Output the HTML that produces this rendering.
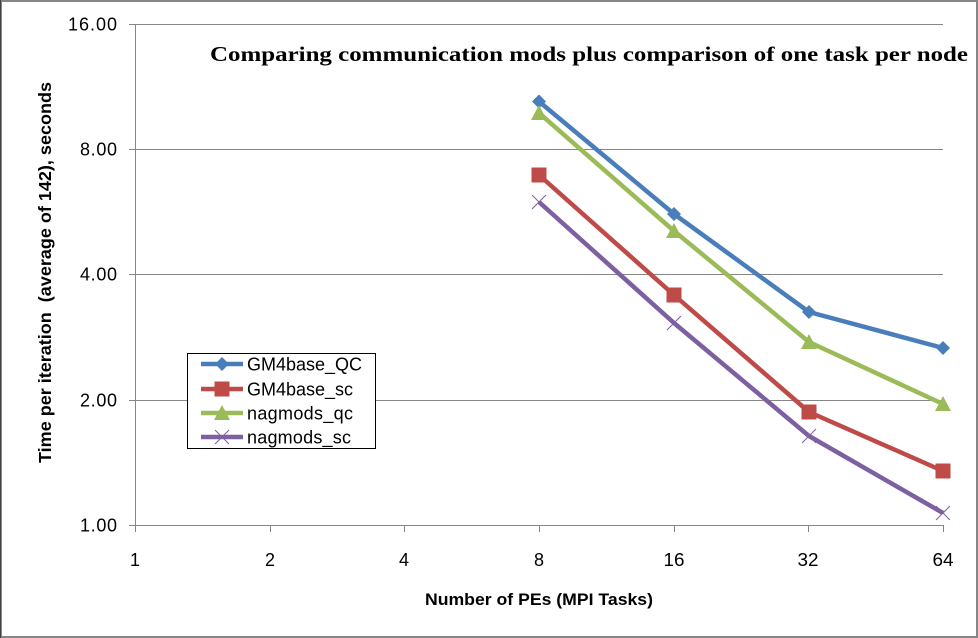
<!DOCTYPE html>
<html>
<head>
<meta charset="utf-8">
<style>
  html, body { margin:0; padding:0; background:#fff; }
  svg { display:block; }
</style>
</head>
<body>
<svg width="978" height="638" viewBox="0 0 978 638" xmlns="http://www.w3.org/2000/svg">
  <rect x="0" y="0" width="978" height="638" fill="#ffffff"/>
  <!-- outer border -->
  <rect x="1" y="1" width="976" height="636" fill="none" stroke="#868686" stroke-width="2"/>
  <line x1="0.5" y1="0" x2="0.5" y2="638" stroke="#404040" stroke-width="1"/>

  <!-- gridlines -->
  <g stroke="#868686" stroke-width="1.2" shape-rendering="crispEdges">
    <line x1="129" y1="24.5" x2="943" y2="24.5"/>
    <line x1="129" y1="149.5" x2="943" y2="149.5"/>
    <line x1="129" y1="274.5" x2="943" y2="274.5"/>
    <line x1="129" y1="400.5" x2="943" y2="400.5"/>
    <line x1="129" y1="525.5" x2="943" y2="525.5"/>
    <!-- y axis -->
    <line x1="135.5" y1="24" x2="135.5" y2="532"/>
    <!-- x ticks -->
    <line x1="270.5" y1="525" x2="270.5" y2="532"/>
    <line x1="404.5" y1="525" x2="404.5" y2="532"/>
    <line x1="539.5" y1="525" x2="539.5" y2="532"/>
    <line x1="674.5" y1="525" x2="674.5" y2="532"/>
    <line x1="808.5" y1="525" x2="808.5" y2="532"/>
    <line x1="943.5" y1="525" x2="943.5" y2="532"/>
  </g>

  <!-- y tick labels -->
  <g font-family="'Liberation Sans', sans-serif" font-size="18" fill="#000" text-anchor="end" lengthAdjust="spacingAndGlyphs">
    <text x="117" y="30.5" textLength="49">16.00</text>
    <text x="117" y="155.5" textLength="37">8.00</text>
    <text x="117" y="280.5" textLength="37">4.00</text>
    <text x="117" y="406.5" textLength="37">2.00</text>
    <text x="117" y="531.5" textLength="37">1.00</text>
  </g>

  <!-- x tick labels -->
  <g font-family="'Liberation Sans', sans-serif" font-size="18" fill="#000" text-anchor="middle">
    <text x="135" y="566">1</text>
    <text x="270" y="566">2</text>
    <text x="404" y="566">4</text>
    <text x="539" y="566">8</text>
    <text x="674" y="566" textLength="21" lengthAdjust="spacingAndGlyphs">16</text>
    <text x="808" y="566" textLength="21" lengthAdjust="spacingAndGlyphs">32</text>
    <text x="943" y="566" textLength="21" lengthAdjust="spacingAndGlyphs">64</text>
  </g>

  <!-- axis titles -->
  <text x="425" y="605" font-family="'Liberation Sans', sans-serif" font-size="17" font-weight="bold" fill="#000" textLength="228" lengthAdjust="spacingAndGlyphs">Number of PEs (MPI Tasks)</text>
  <text transform="translate(51,463) rotate(-90)" x="0" y="0" font-family="'Liberation Sans', sans-serif" font-size="17.5" font-weight="bold" fill="#000" textLength="381" lengthAdjust="spacingAndGlyphs">Time per iteration&#160; (average of 142), seconds</text>

  <!-- chart title -->
  <text x="210" y="61" font-family="'Liberation Serif', serif" font-size="21.5" font-weight="bold" fill="#000" textLength="758" lengthAdjust="spacingAndGlyphs">Comparing communication mods plus comparison of one task per node</text>

  <!-- series: GM4base_QC -->
  <polyline points="539,101.5 674,214 809,312 943,348" fill="none" stroke="#4A7EBB" stroke-width="4.5" stroke-linejoin="round"/>
  <g fill="#4A7EBB">
    <polygon points="539,94.5 546,101.5 539,108.5 532,101.5"/>
    <polygon points="674,207 681,214 674,221 667,214"/>
    <polygon points="809,305 816,312 809,319 802,312"/>
    <polygon points="943,341 950,348 943,355 936,348"/>
  </g>

  <!-- series: GM4base_sc -->
  <polyline points="539,175 674,295 809,412 943,471" fill="none" stroke="#BE4B48" stroke-width="4.5" stroke-linejoin="round"/>
  <g fill="#BE4B48">
    <rect x="531.5" y="167.5" width="15" height="15"/>
    <rect x="666.5" y="287.5" width="15" height="15"/>
    <rect x="801.5" y="404.5" width="15" height="15"/>
    <rect x="935.5" y="463.5" width="15" height="15"/>
  </g>

  <!-- series: nagmods_qc -->
  <polyline points="539,113 674,231 809,342 943,404" fill="none" stroke="#9BBB59" stroke-width="4.5" stroke-linejoin="round"/>
  <g fill="#9BBB59">
    <polygon points="539,105 547,120 531,120"/>
    <polygon points="674,223 682,238 666,238"/>
    <polygon points="809,334 817,349 801,349"/>
    <polygon points="943,396 951,411 935,411"/>
  </g>

  <!-- series: nagmods_sc -->
  <polyline points="539,202 674,323 809,436 943,513" fill="none" stroke="#7D60A0" stroke-width="4.5" stroke-linejoin="round"/>
  <g stroke="#7D60A0" stroke-width="1">
    <path d="M532,195 L546,209 M546,195 L532,209"/>
    <path d="M667,316 L681,330 M681,316 L667,330"/>
    <path d="M802,429 L816,443 M816,429 L802,443"/>
    <path d="M936,506 L950,520 M950,506 L936,520"/>
  </g>

  <!-- legend -->
  <rect x="187.5" y="353.5" width="188" height="95" fill="#ffffff" stroke="#000" stroke-width="1"/>
  <g stroke-width="4.5">
    <line x1="201" y1="364" x2="243" y2="364" stroke="#4A7EBB"/>
    <line x1="201" y1="389" x2="243" y2="389" stroke="#BE4B48"/>
    <line x1="201" y1="413" x2="243" y2="413" stroke="#9BBB59"/>
    <line x1="201" y1="437" x2="243" y2="437" stroke="#7D60A0"/>
  </g>
  <polygon points="222,357 229,364 222,371 215,364" fill="#4A7EBB"/>
  <rect x="214.5" y="381.5" width="15" height="15" fill="#BE4B48"/>
  <polygon points="222,405 230,420 214,420" fill="#9BBB59"/>
  <path d="M215,430 L229,444 M229,430 L215,444" stroke="#7D60A0" stroke-width="1"/>
  <g font-family="'Liberation Sans', sans-serif" font-size="18" fill="#000" lengthAdjust="spacingAndGlyphs">
    <text x="247" y="370.5" textLength="115">GM4base_QC</text>
    <text x="247" y="395.5" textLength="106">GM4base_sc</text>
    <text x="247" y="419.5" textLength="106">nagmods_qc</text>
    <text x="247" y="443.5" textLength="104">nagmods_sc</text>
  </g>
</svg>
</body>
</html>
